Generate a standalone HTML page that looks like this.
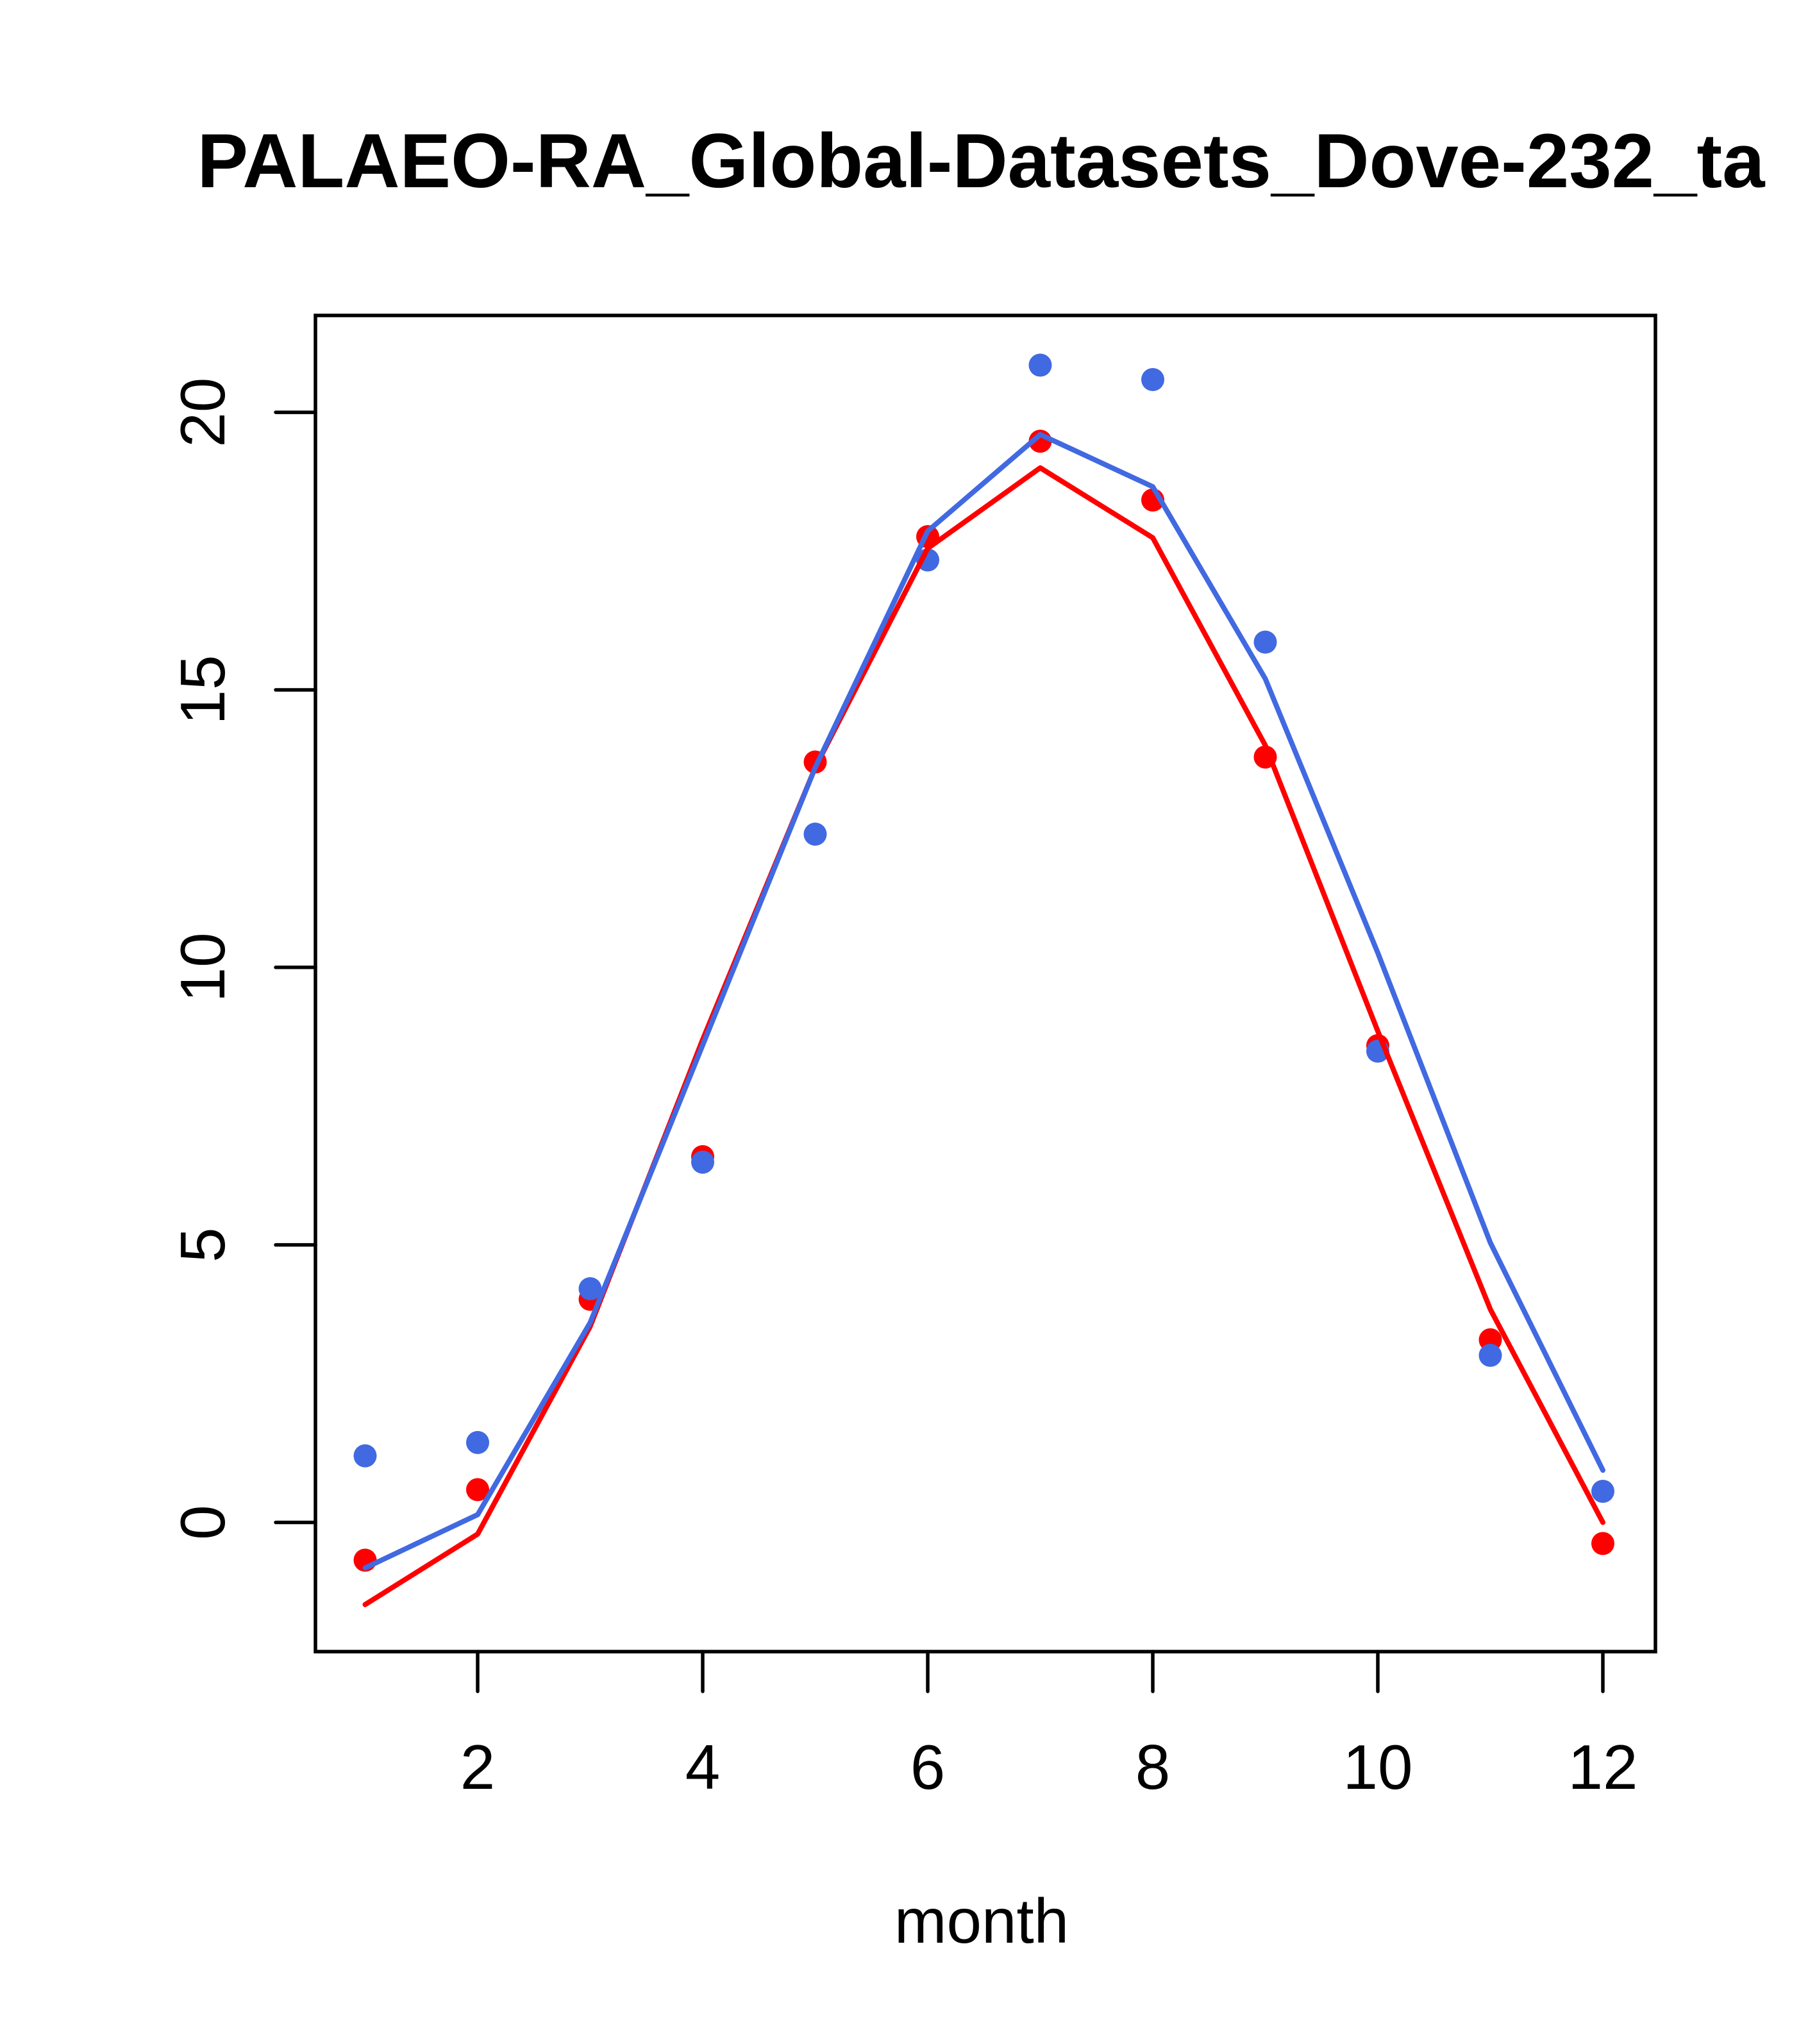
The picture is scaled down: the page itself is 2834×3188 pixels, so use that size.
<!DOCTYPE html>
<html><head><meta charset="utf-8"><style>html,body{margin:0;padding:0;background:#fff}svg{display:block}</style></head>
<body>
<svg id="chart" width="2834" height="3188" xmlns="http://www.w3.org/2000/svg" font-family="Liberation Sans, sans-serif">
<rect width="2834" height="3188" fill="#fff"/>
<text x="1530" y="292" font-size="120" font-weight="bold" text-anchor="middle" textLength="2445" lengthAdjust="spacingAndGlyphs">PALAEO-RA_Global-Datasets_Dove-232_ta</text>
<g id="plot"></g>
</svg>
<script>
const months = [1,2,3,4,5,6,7,8,9,10,11,12];
const redPoints = [-0.68,0.59,4.02,6.59,13.7,17.76,19.48,18.42,13.79,8.59,3.29,-0.38];
const bluePoints = [1.2,1.44,4.21,6.49,12.4,17.34,20.85,20.59,15.86,8.49,3.01,0.56];
const redLine = [-1.48,-0.21,3.53,8.7,13.6,17.55,19.0,17.74,14.0,8.85,3.84,0.0];
const blueLine = [-0.82,0.14,3.6,8.6,13.6,17.86,19.6,18.66,15.2,10.26,5.04,0.94];
const xTicks = [2,4,6,8,10,12];
const yTicks = [0,5,10,15,20];

const NS = 'http://www.w3.org/2000/svg';
const g = document.getElementById('plot');
const L=492, R=2582, T=492, B=2576;
function xs(m){ return 569.5 + (m-1)*175.5; }
function ys(v){ return 2374.5 - v*86.57; }
function mk(tag, attrs, parent){ const e=document.createElementNS(NS,tag); for(const k in attrs) e.setAttribute(k,attrs[k]); (parent||g).appendChild(e); return e; }

const box = mk('rect',{x:L,y:T,width:R-L,height:B-T,fill:'none',stroke:'#000','stroke-width':5.5});



xTicks.forEach(t=>{
  const l = mk('line',{x1:xs(t),x2:xs(t),y1:B,y2:B+62,stroke:'#000','stroke-width':5.5,'stroke-linecap':'round'});
  
  
  const tx = mk('text',{x:xs(t),y:2790,'font-size':98,'text-anchor':'middle'});
  tx.textContent = t;
  
  
});
yTicks.forEach(t=>{
  const l = mk('line',{x1:L,x2:L-62,y1:ys(t),y2:ys(t),stroke:'#000','stroke-width':5.5,'stroke-linecap':'round'});
  
  
  const tx = mk('text',{x:0,y:0,'font-size':98,'text-anchor':'middle',transform:`translate(350,${ys(t)}) rotate(-90)`});
  tx.textContent = t;
  
  
});
const xl = mk('text',{x:1531,y:3030,'font-size':98,'text-anchor':'middle'});
xl.textContent='month';



function pts(vals,color,name){
  vals.forEach((v,i)=>{
    const c = mk('circle',{cx:xs(months[i]),cy:ys(v),r:18,fill:color});
    
    
  });
}
function line(vals,color,name){
  const d = vals.map((v,i)=>(i?'L':'M')+xs(months[i])+','+ys(v)).join(' ');
  const p = mk('path',{d:d,fill:'none',stroke:color,'stroke-width':8,'stroke-linecap':'round','stroke-linejoin':'round'});
  
  
}
pts(redPoints,'#ff0000','red-point');
pts(bluePoints,'#4169e1','blue-point');
line(redLine,'#ff0000','red-line');
line(blueLine,'#4169e1','blue-line');
</script>
</body></html>
